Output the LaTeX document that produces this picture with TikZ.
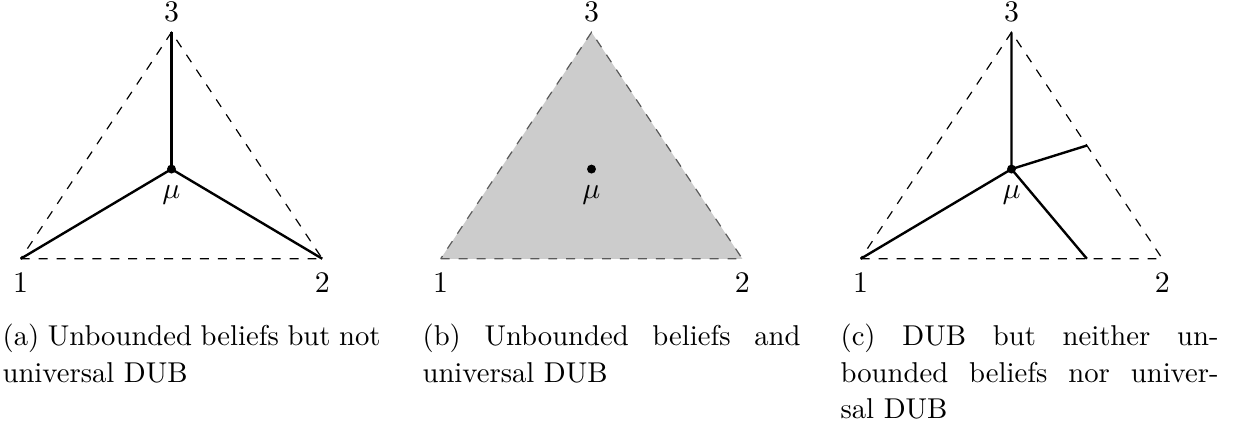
\documentclass[tikz,border=0pt]{standalone}
\usetikzlibrary{calc}
\tikzset{
  rand/.style={black,dashed,line width=0.4pt},
  strecke/.style={black,line width=0.8pt},
  flaeche/.style={fill=gray!40,draw=black!65,dashed,line width=0.4pt},
  ecke/.style={inner sep=3.33pt},
  unter/.style={text width=4.447cm,align=justify,anchor=north west,inner sep=0pt,
    font=\fontsize{9.6}{12.25}\selectfont},
}
\begin{document}
\begin{tikzpicture}
  \useasboundingbox (-0.2435,-1.933) rectangle (14.309,3.044);
  % (a)
  \begin{scope}
    \coordinate (a1) at (0,0);
    \coordinate (a2) at (3.548,0);
    \coordinate (a3) at (1.774,2.664);
    \coordinate (amu) at (1.774,1.055);
    \draw[rand] (a1) -- (a2) -- (a3) -- cycle;
    \draw[strecke] (a1) -- (amu) -- (a2);
    \draw[strecke] (amu) -- (a3);
    \fill (amu) circle (1.5pt);
    \node[ecke,below=2pt] (amul) at (amu) {$\mu$};
    \node[ecke,below=1.3pt] (a1l) at (a1) {$1$};
    \node[ecke,below=1.3pt] (a2l) at (a2) {$2$};
    \node[ecke,above] (a3l) at (a3) {$3$};
    \node[unter] (acap) at (-0.22,-0.76) {(a) Unbounded beliefs but not\linebreak universal DUB};
  \end{scope}
  % (b)
  \begin{scope}[shift={(4.941,0)}]
    \coordinate (b1) at (0,0);
    \coordinate (b2) at (3.548,0);
    \coordinate (b3) at (1.774,2.664);
    \coordinate (bmu) at (1.774,1.055);
    \draw[flaeche] (b1) -- (b2) -- (b3) -- cycle;
    \fill (bmu) circle (1.5pt);
    \node[ecke,below=2pt] (bmul) at (bmu) {$\mu$};
    \node[ecke,below=1.3pt] (b1l) at (b1) {$1$};
    \node[ecke,below=1.3pt] (b2l) at (b2) {$2$};
    \node[ecke,above] (b3l) at (b3) {$3$};
    \node[unter] (bcap) at (-0.22,-0.76) {(b) Unbounded beliefs and\linebreak universal DUB};
  \end{scope}
  % (c)
  \begin{scope}[shift={(9.882,0)}]
    \coordinate (c1) at (0,0);
    \coordinate (c2) at (3.548,0);
    \coordinate (c3) at (1.774,2.664);
    \coordinate (cmu) at (1.774,1.055);
    \coordinate (cm) at ($(c2)!0.5!(c3)$);
    \coordinate (cb) at (cm |- c1);
    \draw[rand] (c1) -- (c2) -- (c3) -- cycle;
    \draw[strecke] (c1) -- (cmu) -- (c3);
    \draw[strecke] (cm) -- (cmu) -- (cb);
    \fill (cmu) circle (1.5pt);
    \node[ecke,below=2pt] (cmul) at (cmu) {$\mu$};
    \node[ecke,below=1.3pt] (c1l) at (c1) {$1$};
    \node[ecke,below=1.3pt] (c2l) at (c2) {$2$};
    \node[ecke,above] (c3l) at (c3) {$3$};
    \node[unter] (ccap) at (-0.2435,-0.76) {(c) DUB but neither un-\linebreak bounded beliefs nor univer-\linebreak sal DUB};
  \end{scope}
\end{tikzpicture}
\end{document}
